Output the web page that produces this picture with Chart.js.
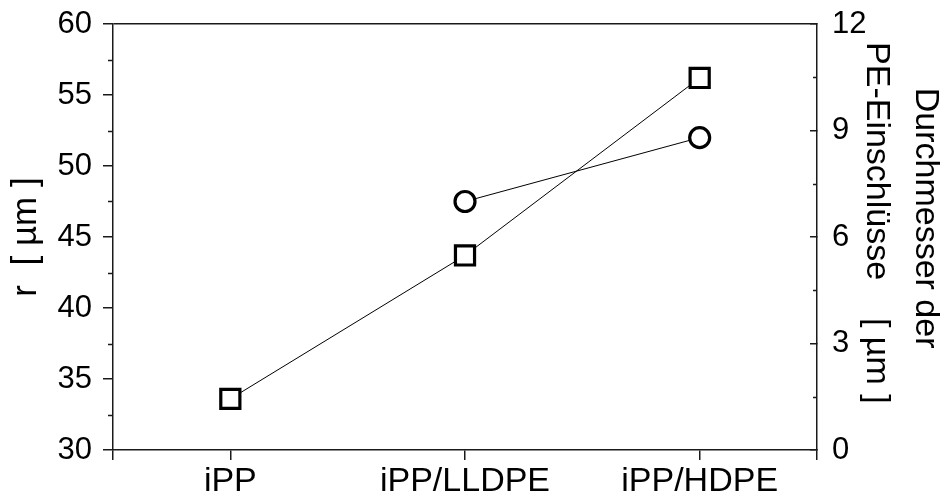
<!DOCTYPE html>
<html>
<head>
<meta charset="utf-8">
<script src="https://cdn.jsdelivr.net/npm/chart.js@4/dist/chart.umd.min.js"></script>
<style>
  html, body { margin: 0; padding: 0; background: #fff; }
  #wrap { width: 947px; height: 499px; position: relative; }
</style>
</head>
<body>
<div id="wrap"><canvas id="c" width="947" height="499"></canvas></div>
<script>
// ---- data ----
const categories = ['iPP', 'iPP/LLDPE', 'iPP/HDPE'];
const radiusValues = [33.6, 43.7, 56.2];        // r [µm] (left axis, squares)
const diameterValues = [null, 7.0, 8.8];        // PE inclusion diameter [µm] (right axis, circles)
const leftTicks = [30, 35, 40, 45, 50, 55, 60];
const leftMinorTicks = [32.5, 37.5, 42.5, 47.5, 52.5, 57.5];
const rightTicks = [0, 3, 6, 9, 12];
const rightMinorTicks = [1.5, 4.5, 7.5, 10.5];
const xTickPositions = [-0.5, 0, 1, 2, 2.5];

const FONT = "'Liberation Sans', Arial, Helvetica, sans-serif";
const AX = '#1a1a1a';

const toPoints = arr => arr.map((v, i) => (v === null ? null : { x: i, y: v })).filter(p => p);

const minorTicks = {
  id: 'minorTicks',
  afterDraw(chart) {
    const ctx = chart.ctx;
    const yl = chart.scales.y, yr = chart.scales.y1;
    ctx.save();
    ctx.strokeStyle = AX;
    ctx.lineWidth = 1.5;
    ctx.beginPath();
    leftMinorTicks.forEach(v => {
      const p = Math.round(yl.getPixelForValue(v)) + 0.5;
      ctx.moveTo(yl.right, p); ctx.lineTo(yl.right - 5, p);
    });
    rightMinorTicks.forEach(v => {
      const p = Math.round(yr.getPixelForValue(v)) + 0.5;
      ctx.moveTo(yr.left, p); ctx.lineTo(yr.left - 4, p);
    });
    ctx.stroke();
    ctx.restore();
  }
};

new Chart(document.getElementById('c'), {
  type: 'scatter',
  data: {
    datasets: [
      {
        label: 'r',
        data: toPoints(radiusValues),
        yAxisID: 'y',
        showLine: true,
        borderColor: '#000',
        borderWidth: 1,
        pointStyle: 'rect',
        pointRadius: 13.5,
        pointHoverRadius: 13.5,
        pointBorderWidth: 3.2,
        pointBorderColor: '#000',
        pointBackgroundColor: '#fff'
      },
      {
        label: 'Durchmesser',
        data: toPoints(diameterValues),
        yAxisID: 'y1',
        showLine: true,
        borderColor: '#000',
        borderWidth: 1,
        pointStyle: 'circle',
        pointRadius: 10,
        pointHoverRadius: 10,
        pointBorderWidth: 3.2,
        pointBorderColor: '#000',
        pointBackgroundColor: '#fff'
      }
    ]
  },
  options: {
    responsive: false,
    animation: false,
    events: [],
    layout: { padding: { top: 24, left: 0, right: 0, bottom: 0 } },
    plugins: { legend: { display: false }, tooltip: { enabled: false } },
    scales: {
      x: {
        type: 'linear',
        position: 'bottom',
        min: -0.5,
        max: 2.5,
        afterBuildTicks: s => { s.ticks = xTickPositions.map(v => ({ value: v })); },
        afterFit: s => { s.height = 49; s.paddingLeft = 0; s.paddingRight = 0; },
        grid: { drawOnChartArea: false, drawTicks: true, tickLength: 10, color: AX, tickColor: AX, lineWidth: 1.5 },
        border: { display: true, color: AX, width: 1.5 },
        ticks: {
          autoSkip: false, maxRotation: 0, padding: 1, color: '#000',
          font: { family: FONT, size: 34 },
          callback: v => categories[v] !== undefined ? categories[v] : ''
        }
      },
      y: {
        type: 'linear',
        position: 'left',
        min: 30,
        max: 60,
        afterBuildTicks: s => { s.ticks = leftTicks.map(v => ({ value: v })); },
        afterFit: s => { s.width = 113; s.paddingTop = 0; s.paddingBottom = 0; },
        grid: {
          drawOnChartArea: true, drawTicks: true, tickLength: 10, lineWidth: 1.5,
          color: c => (c.tick && c.tick.value === 60 ? AX : 'rgba(0,0,0,0)'),
          tickColor: AX
        },
        border: { display: true, color: AX, width: 1.5 },
        ticks: { padding: 11, color: '#000', font: { family: FONT, size: 31 } },
        title: {
          display: true, text: 'r  [ µm ]', color: '#000',
          font: { family: FONT, size: 35, lineHeight: 1.2 },
          padding: { top: 5, bottom: 0 }
        }
      },
      y1: {
        type: 'linear',
        position: 'right',
        min: 0,
        max: 12,
        afterBuildTicks: s => { s.ticks = rightTicks.map(v => ({ value: v })); },
        afterFit: s => { s.width = 130; s.paddingTop = 0; s.paddingBottom = 0; },
        grid: { drawOnChartArea: false, drawTicks: true, tickLength: -7, color: AX, tickColor: AX, lineWidth: 1.5 },
        border: { display: true, color: AX, width: 1.5 },
        ticks: { padding: 22, color: '#000', font: { family: FONT, size: 31 } },
        title: {
          display: true, text: ['Durchmesser der    ', 'PE-Einschlüsse    [ µm ]   '], color: '#000',
          font: { family: FONT, size: 34, lineHeight: 1.45 },
          padding: { top: -3, bottom: 0 }
        }
      }
    }
  },
  plugins: [minorTicks]
});
</script>
</body>
</html>
